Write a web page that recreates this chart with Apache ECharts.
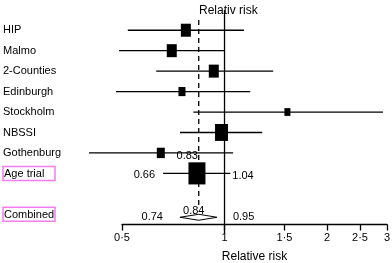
<!DOCTYPE html>
<html>
<head>
<meta charset="utf-8">
<script src="https://cdn.jsdelivr.net/npm/echarts@6/dist/echarts.min.js"></script>
<style>
  html, body { margin: 0; padding: 0; background: #fff; }
  #chart { width: 392px; height: 263px; }
</style>
</head>
<body>
<div id="chart"></div>
<script>
// rows of the forest plot (blank row keeps the gap before Combined)
var rows = ['HIP', 'Malmo', '2-Counties', 'Edinburgh', 'Stockholm', 'NBSSI', 'Gothenburg', 'Age trial', '', 'Combined'];
var studies = ['HIP', 'Malmo', '2-Counties', 'Edinburgh', 'Stockholm', 'NBSSI', 'Gothenburg', 'Age trial'];
var estimate = [0.77, 0.70, 0.93, 0.75, 1.53, 0.98, 0.65, 0.83];
var lower = [0.52, 0.49, 0.63, 0.48, 0.81, 0.74, 0.40, 0.66];
var upper = [1.14, 1.00, 1.39, 1.19, 2.92, 1.29, 1.06, 1.04];
var weight = [10, 10, 10, 7, 6, 13, 8, 17];
var combinedEst = [0.84];
var combinedLo = [0.74];
var combinedHi = [0.95];
var tickValues = [0.5, 1, 1.5, 2, 2.5, 3];

var studyData = studies.map(function (s, i) {
  return [estimate[i], s, lower[i], upper[i], weight[i]];
});

function renderStudy(params, api) {
  var c = api.coord([api.value(0), api.value(1)]);
  var xl = api.coord([api.value(2), api.value(1)])[0];
  var xh = api.coord([api.value(3), api.value(1)])[0];
  var w = api.value(4), h = w * 1.3;
  var kids = [
    { type: 'line', shape: { x1: xl, y1: c[1], x2: xh, y2: c[1] }, style: { stroke: '#000', lineWidth: 1.3 } },
    { type: 'rect', shape: { x: c[0] - w / 2, y: c[1] - h / 2, width: w, height: h }, style: { fill: '#000' } }
  ];
  // the age trial gets its numbers written next to it
  if (params.dataIndex === studies.length - 1) {
    var f = '11px Arial';
    kids.push({ type: 'text', style: { text: api.value(0).toFixed(2), x: c[0] + 1, y: c[1] - h / 2 - 1, align: 'right', verticalAlign: 'bottom', font: f, fill: '#000' } });
    kids.push({ type: 'text', style: { text: api.value(2).toFixed(2), x: xl - 8, y: c[1] + 2, align: 'right', verticalAlign: 'middle', font: f, fill: '#000' } });
    kids.push({ type: 'text', style: { text: api.value(3).toFixed(2), x: xh + 2, y: c[1] + 3, align: 'left', verticalAlign: 'middle', font: f, fill: '#000' } });
  }
  return { type: 'group', children: kids };
}

function renderDiamond(params, api) {
  var c = api.coord([api.value(0), api.value(1)]);
  var xl = api.coord([api.value(2), api.value(1)])[0];
  var xh = api.coord([api.value(3), api.value(1)])[0];
  var y = c[1] + 3;
  var f = '11px Arial';
  return {
    type: 'group',
    children: [
      { type: 'polygon', shape: { points: [[xl, y], [c[0], y - 3], [xh, y], [c[0], y + 3]] }, style: { fill: '#fff', stroke: '#000', lineWidth: 1 } },
      { type: 'text', style: { text: api.value(0).toFixed(2), x: c[0] - 5, y: y - 6, align: 'center', verticalAlign: 'middle', font: f, fill: '#000' } },
      { type: 'text', style: { text: api.value(2).toFixed(2), x: xl - 17, y: y, align: 'right', verticalAlign: 'middle', font: f, fill: '#000' } },
      { type: 'text', style: { text: api.value(3).toFixed(2), x: xh + 16, y: y, align: 'left', verticalAlign: 'middle', font: f, fill: '#000' } }
    ]
  };
}

function renderRefLine(params, api) {
  var cs = params.coordSys;
  var x = api.coord([api.value(0), 0])[0];
  if (params.dataIndex === 0) {
    return { type: 'line', shape: { x1: x, y1: cs.y - 10, x2: x, y2: cs.y + cs.height + 9 }, style: { stroke: '#000', lineWidth: 1.3 } };
  }
  var yc = api.coord([api.value(0), 'Combined'])[1];
  return { type: 'line', shape: { x1: x, y1: cs.y, x2: x, y2: yc - 8 }, style: { stroke: '#000', lineWidth: 1.3, lineDash: [5, 4] } };
}

var myChart = echarts.init(document.getElementById('chart'));
var option = {
  animation: false,
  title: {
    text: 'Relativ risk',
    left: 194,
    top: 0,
    textStyle: { fontSize: 12, fontWeight: 'normal', color: '#000', fontFamily: 'Arial' }
  },
  grid: { left: 122, right: 5, top: 20, bottom: 38.5, containLabel: false, outerBoundsMode: 'none' },
  xAxis: {
    type: 'log',
    min: 0.5,
    max: 3,
    axisLine: { show: true, lineStyle: { color: '#000', width: 1.3 } },
    axisTick: { show: true, length: 6, customValues: tickValues, lineStyle: { color: '#000', width: 1.3 } },
    axisLabel: {
      customValues: tickValues,
      margin: 8,
      fontSize: 11,
      color: '#000',
      fontFamily: 'Arial',
      formatter: function (v) { return String(v).replace('.', '·'); }
    },
    splitLine: { show: false },
    name: 'Relative risk',
    nameLocation: 'middle',
    nameGap: 26,
    nameTextStyle: { fontSize: 12, color: '#000', fontFamily: 'Arial' }
  },
  yAxis: {
    type: 'category',
    data: rows,
    inverse: true,
    axisLine: { show: false },
    axisTick: { show: false },
    axisLabel: {
      align: 'left',
      margin: 119,
      fontSize: 11,
      color: '#000',
      fontFamily: 'Arial',
      formatter: function (v) {
        if (v === 'Age trial' || v === 'Combined') return '{box|' + v + '}';
        return v;
      },
      rich: {
        box: { borderColor: '#f27ef2', borderWidth: 1.5, padding: [2, 2, 1, 1], width: 49, fontSize: 11, color: '#000', fontFamily: 'Arial' }
      }
    }
  },
  series: [
    { type: 'custom', renderItem: renderRefLine, data: [[1, 0], [combinedEst[0], 0]], z: 1 },
    { type: 'custom', renderItem: renderStudy, data: studyData, encode: { x: [0, 2, 3], y: 1 }, z: 2 },
    { type: 'custom', renderItem: renderDiamond, data: [[combinedEst[0], 'Combined', combinedLo[0], combinedHi[0]]], encode: { x: [0, 2, 3], y: 1 }, z: 3 }
  ]
};
myChart.setOption(option);
</script>
</body>
</html>
